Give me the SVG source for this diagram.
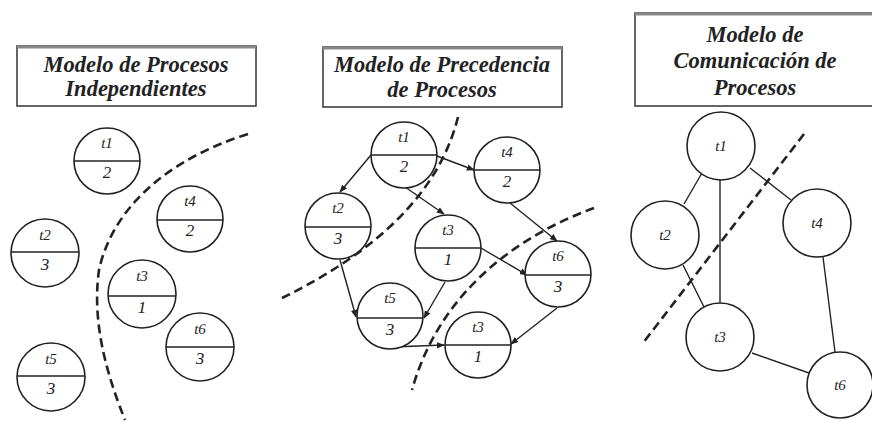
<svg xmlns="http://www.w3.org/2000/svg" width="872" height="421" viewBox="0 0 872 421">
<style>
.bg{fill:#fff}
.tbox{fill:#fff;stroke:#333;stroke-width:1.5}
.tband{stroke:#888;stroke-width:3}
.title{font-family:"Liberation Serif",serif;font-style:italic;font-weight:bold;font-size:22.5px;fill:#222;text-anchor:middle}
.node{fill:#fff;stroke:#222;stroke-width:1.6}
.div{stroke:#222;stroke-width:1.6}
.lab{font-family:"Liberation Serif",serif;font-style:italic;font-size:15px;fill:#222;text-anchor:middle}
.num{font-family:"Liberation Serif",serif;font-style:italic;font-size:17px;fill:#222;text-anchor:middle}
.edge{stroke:#222;stroke-width:1.4;fill:none}
.arr{stroke:#222;stroke-width:1.4;fill:none;marker-end:url(#ah)}
.dash{stroke:#222;stroke-width:2.6;fill:none;stroke-dasharray:9 5}
</style>
<defs>
<marker id="ah" viewBox="0 0 10 10" refX="9" refY="5" markerWidth="8" markerHeight="8" markerUnits="userSpaceOnUse" orient="auto">
<path d="M0,1 L10,5 L0,9 z" fill="#222"/>
</marker>
</defs>
<rect class="bg" width="872" height="421"/>

<g id="title-left">
<rect class="tbox" x="17" y="46" width="239" height="60"/>
<line class="tband" x1="17" y1="47" x2="256" y2="47"/>
<text class="title" x="136" y="72">Modelo de Procesos</text>
<text class="title" x="136" y="96">Independientes</text>
</g>
<g id="title-middle">
<rect class="tbox" x="323" y="47" width="239" height="60"/>
<line class="tband" x1="323" y1="48" x2="562" y2="48"/>
<text class="title" x="442" y="72">Modelo de Precedencia</text>
<text class="title" x="442" y="97">de Procesos</text>
</g>
<g id="title-right">
<rect class="tbox" x="635" y="13" width="245" height="93"/>
<line class="tband" x1="635" y1="14" x2="872" y2="14"/>
<text class="title" x="755" y="42">Modelo de</text>
<text class="title" x="755" y="68">Comunicación de</text>
<text class="title" x="755" y="95">Procesos</text>
</g>

<g id="connectors">
<path class="dash" d="M248,134 C165,160 112,210 99,270 C92,320 105,370 125,420"/>
<path class="dash" d="M458,117 C440,190 380,250 282,298"/>
<path class="dash" d="M594,208 C520,235 440,290 412,390"/>
<path class="dash" d="M804,134 L643,343"/>

<line class="arr" x1="371" y1="155" x2="340" y2="192"/>
<line class="arr" x1="437" y1="156" x2="474" y2="170"/>
<line class="arr" x1="405" y1="187" x2="444" y2="214"/>
<line class="arr" x1="510" y1="203" x2="557" y2="241"/>
<line class="arr" x1="340" y1="260" x2="356" y2="317"/>
<line class="arr" x1="445" y1="282" x2="424" y2="318"/>
<line class="arr" x1="481" y1="248" x2="527" y2="275"/>
<line class="arr" x1="392" y1="347" x2="444" y2="345"/>
<line class="arr" x1="557" y1="308" x2="511" y2="344"/>

<line class="edge" x1="702" y1="173" x2="684" y2="204"/>
<line class="edge" x1="720" y1="178" x2="720" y2="303"/>
<line class="edge" x1="750" y1="168" x2="791" y2="200"/>
<line class="edge" x1="683" y1="265" x2="704" y2="307"/>
<line class="edge" x1="823" y1="257" x2="835" y2="352"/>
<line class="edge" x1="752" y1="353" x2="809" y2="373"/>
</g>

<g id="L-t1"><circle class="node" cx="107" cy="161" r="33"/><line class="div" x1="74" y1="161" x2="140" y2="161"/><text class="lab" x="107" y="148">t1</text><text class="num" x="107" y="178">2</text></g>
<g id="L-t4"><circle class="node" cx="190" cy="219" r="33"/><line class="div" x1="157" y1="220" x2="223" y2="220"/><text class="lab" x="190" y="206">t4</text><text class="num" x="190" y="236">2</text></g>
<g id="L-t2"><circle class="node" cx="45" cy="253" r="34"/><line class="div" x1="11" y1="252" x2="79" y2="252"/><text class="lab" x="45" y="240">t2</text><text class="num" x="45" y="270">3</text></g>
<g id="L-t3"><circle class="node" cx="142" cy="294" r="34"/><line class="div" x1="108" y1="296" x2="176" y2="296"/><text class="lab" x="142" y="281">t3</text><text class="num" x="142" y="313">1</text></g>
<g id="L-t6"><circle class="node" cx="200" cy="347" r="34"/><line class="div" x1="166" y1="347" x2="234" y2="347"/><text class="lab" x="200" y="334">t6</text><text class="num" x="200" y="364">3</text></g>
<g id="L-t5"><circle class="node" cx="51" cy="377" r="34"/><line class="div" x1="17" y1="376" x2="85" y2="376"/><text class="lab" x="51" y="364">t5</text><text class="num" x="51" y="394">3</text></g>

<g id="M-t1"><circle class="node" cx="404" cy="155" r="33"/><line class="div" x1="371" y1="155" x2="437" y2="155"/><text class="lab" x="404" y="142">t1</text><text class="num" x="404" y="172">2</text></g>
<g id="M-t4"><circle class="node" cx="507" cy="170" r="33"/><line class="div" x1="474" y1="170" x2="540" y2="170"/><text class="lab" x="507" y="157">t4</text><text class="num" x="507" y="187">2</text></g>
<g id="M-t2"><circle class="node" cx="338" cy="226" r="33"/><line class="div" x1="305" y1="227" x2="371" y2="227"/><text class="lab" x="338" y="213">t2</text><text class="num" x="338" y="244">3</text></g>
<g id="M-t3"><circle class="node" cx="448" cy="248" r="33"/><line class="div" x1="415" y1="248" x2="481" y2="248"/><text class="lab" x="448" y="235">t3</text><text class="num" x="448" y="265">1</text></g>
<g id="M-t6"><circle class="node" cx="558" cy="274" r="33"/><line class="div" x1="525" y1="275" x2="591" y2="275"/><text class="lab" x="558" y="261">t6</text><text class="num" x="558" y="292">3</text></g>
<g id="M-t5"><circle class="node" cx="390" cy="316" r="33"/><line class="div" x1="357" y1="318" x2="423" y2="318"/><text class="lab" x="390" y="303">t5</text><text class="num" x="390" y="335">3</text></g>
<g id="M-t3b"><circle class="node" cx="478" cy="345" r="33"/><line class="div" x1="445" y1="345" x2="511" y2="345"/><text class="lab" x="478" y="332">t3</text><text class="num" x="478" y="362">1</text></g>

<g id="R-t1"><circle class="node" cx="721" cy="146" r="34"/><text class="lab" x="721" y="151">t1</text></g>
<g id="R-t2"><circle class="node" cx="665" cy="235" r="34"/><text class="lab" x="665" y="240">t2</text></g>
<g id="R-t4"><circle class="node" cx="817" cy="223" r="34"/><text class="lab" x="817" y="228">t4</text></g>
<g id="R-t3"><circle class="node" cx="720" cy="337" r="34"/><text class="lab" x="720" y="342">t3</text></g>
<g id="R-t6"><circle class="node" cx="840" cy="385" r="33"/><text class="lab" x="840" y="390">t6</text></g>
</svg>
